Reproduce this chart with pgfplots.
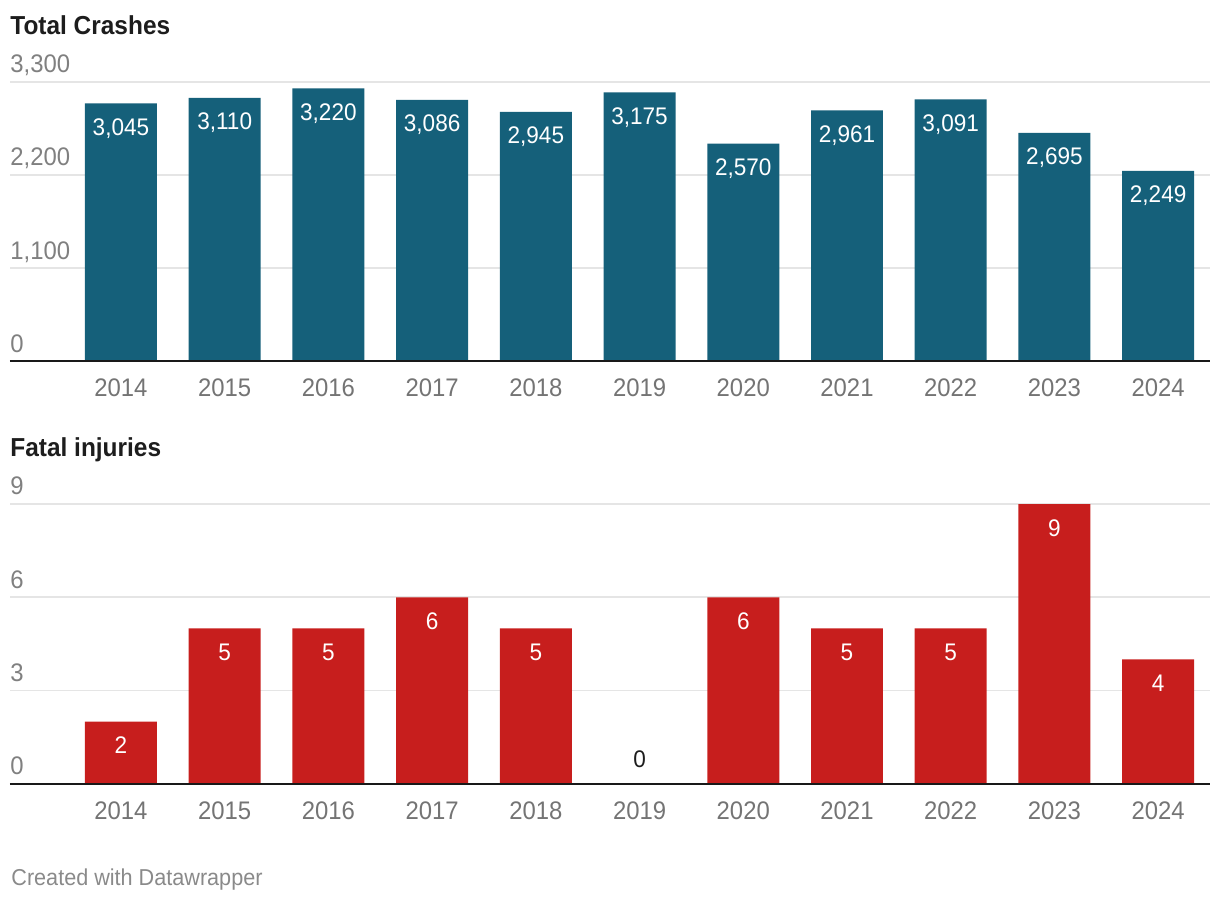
\documentclass[border=0pt]{standalone}
\usepackage{fontspec}
\setmainfont{Liberation Sans}[FakeStretch=0.94]
\usepackage{pgfplots}
\pgfplotsset{compat=1.18}
\definecolor{barblue}{HTML}{15607A}
\definecolor{barred}{HTML}{C71E1D}
\definecolor{gridc}{HTML}{E5E5E5}
\definecolor{ytickc}{HTML}{808080}
\definecolor{xtickc}{HTML}{747474}
\definecolor{titlec}{HTML}{1D1D1D}
\definecolor{footc}{HTML}{8A8A8A}
\pgfplotsset{
 dwstyle/.style={
  scale only axis, width=600pt, height=139.9pt, xmin=-1.07, xmax=10.5, ymin=0,
  axis line style={draw=none}, major tick length=0pt,
  ymajorgrids, grid style={gridc, line width=0.9pt},
  xtick={0,1,2,3,4,5,6,7,8,9,10},
  xticklabels={2014,2015,2016,2017,2018,2019,2020,2021,2022,2023,2024},
  xticklabel style={anchor=base, inner sep=0pt, yshift=-17.75pt, text=xtickc, font=\fontsize{12.7}{15}\selectfont},
  yticklabel style={anchor=base west, inner sep=0pt, yshift=4.6pt, text=ytickc, font=\fontsize{12.7}{15}\selectfont},
  /pgf/number format/1000 sep={,}, /pgf/number format/assume math mode=true,
  scaled y ticks=false,
  ybar, bar width=0.694, bar shift=0pt,
  clip=false,
 },
 inlab/.style={nodes near coords, nodes near coords style={anchor=base, yshift=-16pt, text=white, inner sep=0pt, font=\fontsize{12}{14}\selectfont}},
 outlab/.style={nodes near coords, nodes near coords style={anchor=base, yshift=8pt, text=titlec, inner sep=0pt, font=\fontsize{12}{14}\selectfont}},
}
\begin{document}
\begin{tikzpicture}
\useasboundingbox (0,0) rectangle (610pt,450pt);
\begin{axis}[dwstyle, at={(5pt,269.25pt)}, anchor=south west, ymax=3300, ytick={0,1100,2200,3300}]
\addplot[fill=barblue, draw=none, inlab] coordinates {(0,3045) (1,3110) (2,3220) (3,3086) (4,2945) (5,3175) (6,2570) (7,2961) (8,3091) (9,2695) (10,2249)};
\draw[black!90, line width=1pt] (rel axis cs:0,0) -- (rel axis cs:1,0);
\end{axis}
\begin{axis}[dwstyle, at={(5pt,58.1pt)}, anchor=south west, ymax=9, ytick={0,3,6,9}]
\addplot[fill=barred, draw=none, inlab] coordinates {(0,2) (1,5) (2,5) (3,6) (4,5) (6,6) (7,5) (8,5) (9,9) (10,4)};
\addplot[fill=none, draw=none, outlab] coordinates {(5,0)};
\draw[black!90, line width=1pt] (rel axis cs:0,0) -- (rel axis cs:1,0);
\end{axis}
\node[anchor=base west, inner sep=0pt, text=titlec, font=\bfseries\fontsize{13}{15}\selectfont] at (5pt,432.8pt) {Total Crashes};
\node[anchor=base west, inner sep=0pt, text=titlec, font=\bfseries\fontsize{13}{15}\selectfont] at (5pt,221.9pt) {Fatal injuries};
\node[anchor=base west, inner sep=0pt, text=footc, font=\fontsize{11.5}{14}\selectfont] at (5.5pt,7.5pt) {Created with Datawrapper};
\end{tikzpicture}
\end{document}
